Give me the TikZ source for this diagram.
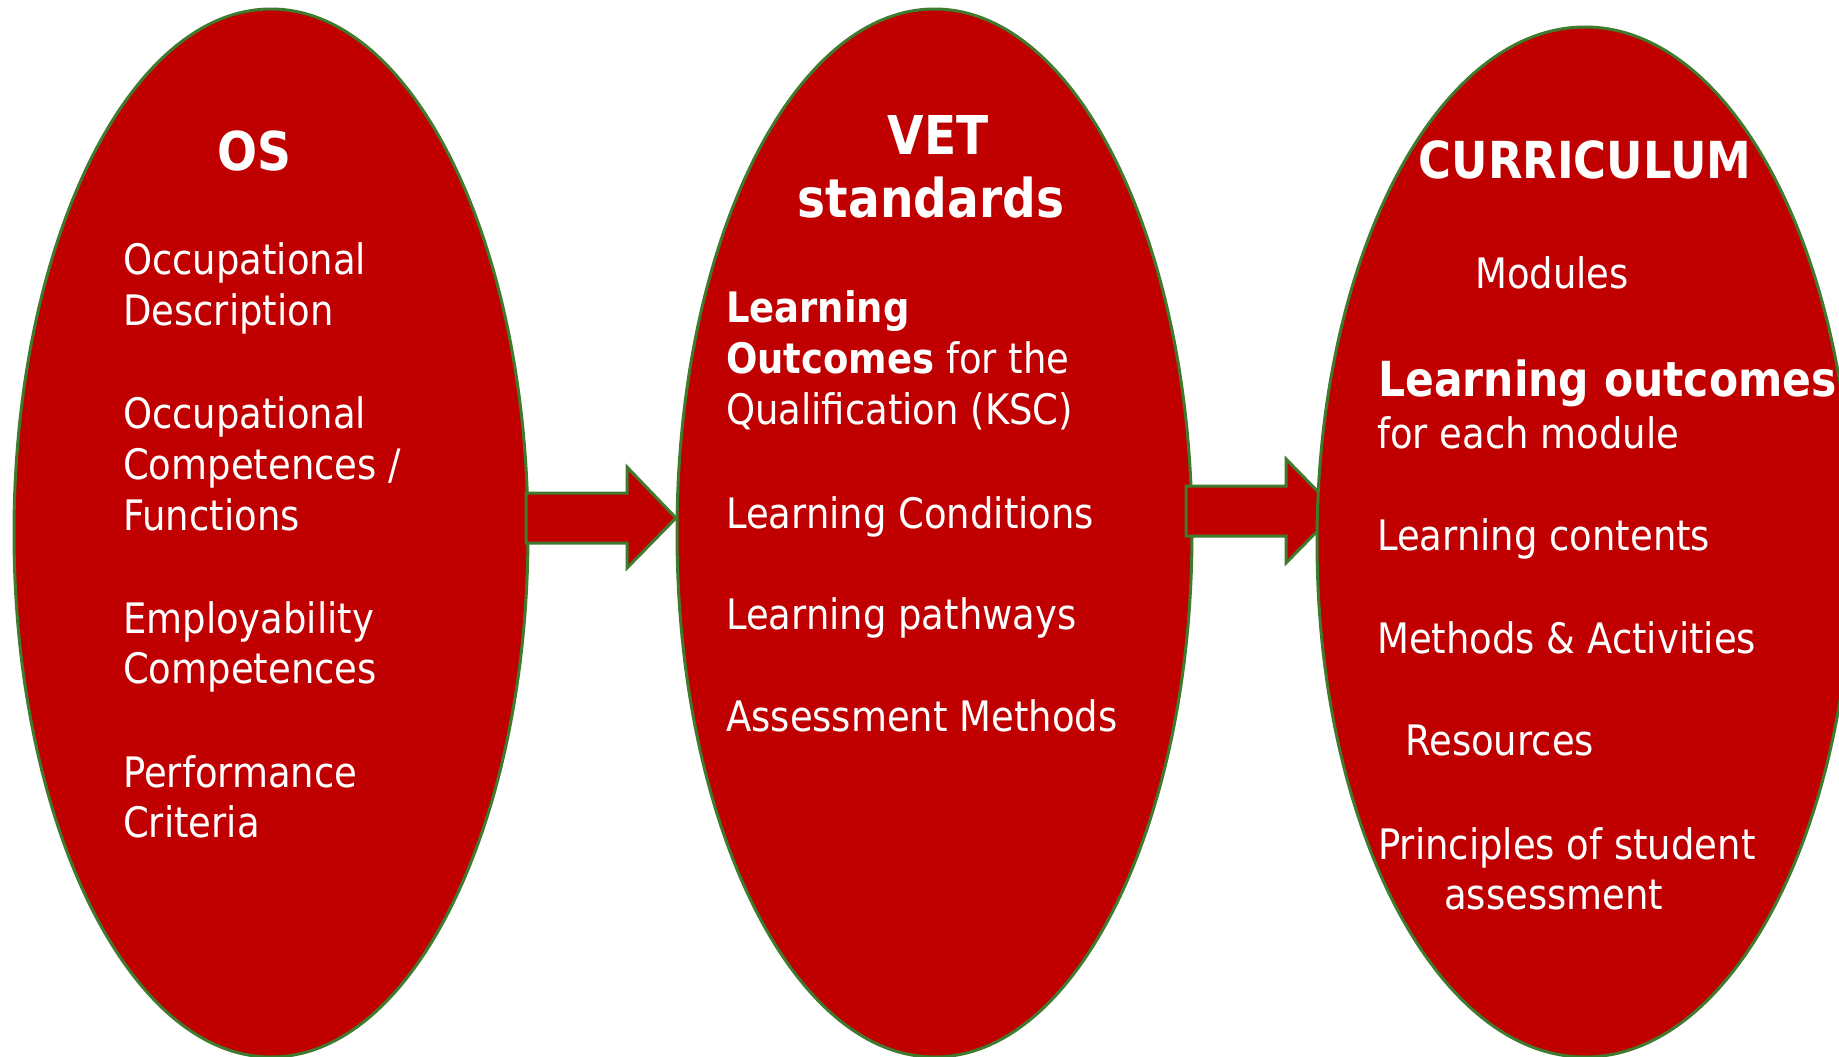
\documentclass[tikz,border=0pt]{standalone}
\usepackage{fontspec}
\setmainfont{DejaVu Sans}[FakeStretch=0.88]
\usetikzlibrary{shapes.geometric}
\definecolor{fillred}{RGB}{192,0,0}
\definecolor{edgegreen}{RGB}{64,122,46}
\begin{document}
\begin{tikzpicture}[x=1pt,y=-1pt,
  oval/.style={ellipse, draw=edgegreen, line width=3pt, fill=fillred, inner sep=0pt},
  blockarrow/.style={draw=edgegreen, line width=3pt, fill=fillred, line join=miter},
  txt/.style={anchor=base west, text=white, inner sep=0pt, font=\fontsize{42}{50}\selectfont},
  ttl/.style={anchor=base, text=white, inner sep=0pt, font=\fontsize{53.5}{64}\selectfont\bfseries}]
\useasboundingbox (0,0) rectangle (1839,1057);
% ellipses and arrows
\node[oval, minimum width=514pt, minimum height=1048pt] (os) at (271,533) {};
\draw[blockarrow] (526,493) -- (627,493) -- (627,467) -- (676,518) -- (627,568) -- (627,543) -- (526,543) -- cycle;
\node[oval, minimum width=515pt, minimum height=1048pt] (vet) at (934.5,533) {};
\draw[blockarrow] (1186,486) -- (1286,486) -- (1286,459) -- (1337,511) -- (1286,563) -- (1286,536) -- (1186,536) -- cycle;
\node[oval, minimum width=536pt, minimum height=1030pt] (cur) at (1585,542) {};
% OS column
\node[ttl] (t1) at (254,170) {OS};
\node[txt] (a1) at (123,274) {Occupational};
\node[txt] (a2) at (123,325) {Description};
\node[txt] (a3) at (123,428) {Occupational};
\node[txt] (a4) at (123,479) {Competences /};
\node[txt] (a5) at (123,530) {Functions};
\node[txt] (a6) at (123,633) {Employability};
\node[txt] (a7) at (123,683) {Competences};
\node[txt] (a8) at (123,787) {Performance};
\node[txt] (a9) at (123,837) {Criteria};
% VET column
\node[ttl] (t2) at (938,154) {VET};
\node[ttl] (t3) at (931,217) {standards};
\node[txt] (b1) at (726,322) {\bfseries Learning};
\node[txt] (b2) at (726,373) {{\bfseries Outcomes} for the};
\node[txt] (b3) at (726,424) {Qualification (KSC)};
\node[txt] (b4) at (726,528) {Learning Conditions};
\node[txt] (b5) at (726,629) {Learning pathways};
\node[txt] (b6) at (726,731) {Assessment Methods};
% Curriculum column
\node[ttl, font=\fontsize{51}{60}\selectfont\bfseries] (t4) at (1585,178) {CURRICULUM};
\node[txt] (c1) at (1475,288) {Modules};
\node[txt, font=\fontsize{48.3}{57}\selectfont\bfseries] (c2) at (1378,396) {Learning outcomes};
\node[txt] (c3) at (1377,448) {for each module};
\node[txt] (c4) at (1377,550) {Learning contents};
\node[txt] (c5) at (1377,653) {Methods \& Activities};
\node[txt] (c6) at (1405,755) {Resources};
\node[txt] (c7) at (1378,859) {Principles of student};
\node[txt] (c8) at (1444,909) {assessment};
\end{tikzpicture}
\end{document}
